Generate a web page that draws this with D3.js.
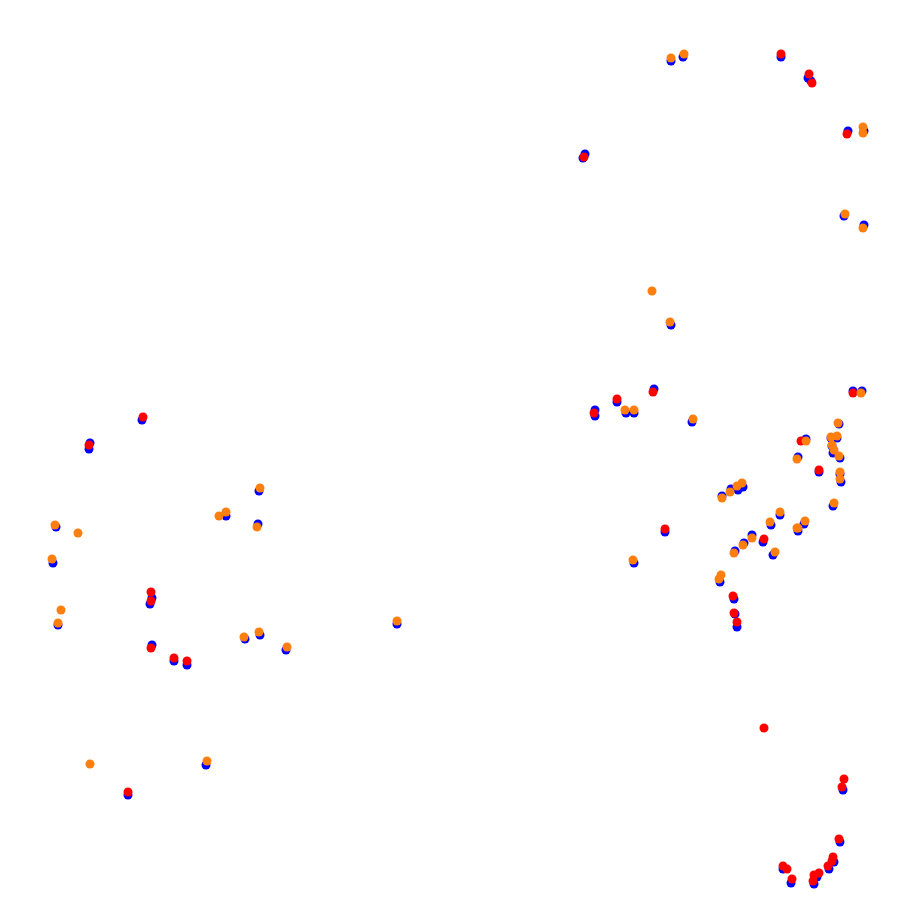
<!DOCTYPE html>
<html>
<head>
<meta charset="utf-8">
<script src="https://cdn.jsdelivr.net/npm/d3@7"></script>
<style>
  html, body { margin: 0; padding: 0; background: #fff; }
  svg { display: block; }
</style>
</head>
<body>
<div id="chart"></div>
<script>
// Series: [x, y] positions in plot units
const blueSeries = [
  [671,61],[683,57],[781,57],[808,78],[811,81],[848,131],[864,131],[583,158],[585,154],
  [844,216],[864,225],[671,325],[654,389],[617,402],[595,416],[595,410],[626,413],[634,413],
  [692,422],[853,391],[862,391],[839,424],[806,439],[831,438],[837,438],[832,446],[833,453],
  [840,458],[798,457],[819,472],[840,474],[841,482],[833,506],[722,496],[731,489],[738,490],
  [743,487],[780,515],[771,525],[804,524],[798,531],[752,535],[744,543],[763,542],[735,551],
  [665,532],[634,563],[773,555],[720,582],[734,599],[735,614],[737,627],
  [843,790],[840,842],[834,862],[829,869],[817,877],[814,884],[783,869],[791,883],
  [142,420],[89,449],[90,443],[259,491],[226,516],[258,524],[56,527],[53,563],[58,625],
  [152,598],[150,604],[152,645],[174,661],[187,665],[245,639],[260,635],[286,650],[397,624],
  [128,795],[206,765]
];
const redSeries = [
  [781,54],[809,74],[812,83],[847,134],[584,157],[653,392],[617,399],[594,413],[853,393],
  [801,441],[819,470],[665,529],[764,539],[733,596],[734,613],[737,622],
  [764,728],[842,787],[844,779],[839,839],[833,857],[832,861],[828,866],[819,873],[814,875],
  [813,881],[783,866],[787,869],[792,879],
  [143,417],[89,445],[151,592],[151,601],[151,648],[174,658],[187,661],[128,792]
];
const orangeSeries = [
  [671,58],[684,54],[863,127],[863,133],[845,214],[863,228],[652,291],[670,322],[625,410],
  [634,410],[693,419],[861,393],[838,423],[806,441],[831,437],[837,436],[832,445],[834,450],
  [839,456],[797,459],[840,472],[840,479],[834,503],[722,498],[730,492],[737,486],[742,483],
  [780,512],[770,522],[805,521],[798,528],[797,528],[752,538],[743,545],[734,553],[633,560],
  [775,552],[719,579],[721,575],
  [260,488],[226,512],[219,516],[257,527],[55,525],[78,533],[52,559],[61,610],[58,623],
  [244,637],[259,632],[287,647],[397,621],[90,764],[207,761]
];

const W = 898, H = 912;
const x = d3.scaleLinear().domain([0, 898]).range([0, W]);
const y = d3.scaleLinear().domain([0, 912]).range([0, H]);

const svg = d3.select("#chart").append("svg").attr("width", W).attr("height", H);

const series = [
  { data: blueSeries, color: "#0000ff" },
  { data: redSeries, color: "#ff0000" },
  { data: orangeSeries, color: "#ff7f0e" }
];

series.forEach(s => {
  svg.append("g")
    .selectAll("circle")
    .data(s.data)
    .join("circle")
    .attr("cx", d => x(d[0]))
    .attr("cy", d => y(d[1]))
    .attr("r", 4.5)
    .attr("fill", s.color);
});
</script>
</body>
</html>
